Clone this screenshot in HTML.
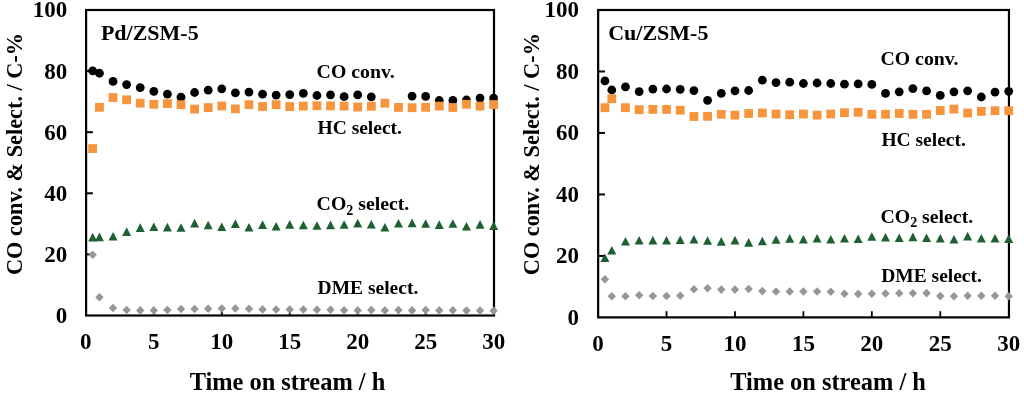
<!DOCTYPE html>
<html><head><meta charset="utf-8"><title>CO conversion and selectivity</title>
<style>
html,body{margin:0;padding:0;background:#fff;}
body{width:1024px;height:395px;overflow:hidden;}
svg{display:block;filter:grayscale(0);}
text{font-family:"Liberation Serif",serif;font-weight:bold;fill:#000;}
</style></head>
<body>
<svg width="1024" height="395" viewBox="0 0 1024 395">
<rect width="1024" height="395" fill="#fff"/>
<rect x="86.1" y="10" width="407.9" height="305.5" fill="none" stroke="#000" stroke-width="2.2"/>
<line x1="86.1" y1="254.4" x2="92.9" y2="254.4" stroke="#000" stroke-width="2"/>
<line x1="86.1" y1="193.3" x2="92.9" y2="193.3" stroke="#000" stroke-width="2"/>
<line x1="86.1" y1="132.2" x2="92.9" y2="132.2" stroke="#000" stroke-width="2"/>
<line x1="86.1" y1="71.1" x2="92.9" y2="71.1" stroke="#000" stroke-width="2"/>
<line x1="153.82" y1="315.5" x2="153.82" y2="309.3" stroke="#000" stroke-width="1.8"/>
<line x1="221.78" y1="315.5" x2="221.78" y2="309.3" stroke="#000" stroke-width="1.8"/>
<line x1="289.74" y1="315.5" x2="289.74" y2="309.3" stroke="#000" stroke-width="1.8"/>
<line x1="357.71" y1="315.5" x2="357.71" y2="309.3" stroke="#000" stroke-width="1.8"/>
<line x1="425.67" y1="315.5" x2="425.67" y2="309.3" stroke="#000" stroke-width="1.8"/>
<g font-size="23" text-anchor="end">
<text x="67.3" y="322.9">0</text>
<text x="67.3" y="261.8">20</text>
<text x="67.3" y="200.7">40</text>
<text x="67.3" y="139.6">60</text>
<text x="67.3" y="78.5">80</text>
<text x="67.3" y="17.4">100</text>
</g>
<g font-size="23" text-anchor="middle">
<text x="85.86" y="348.7">0</text>
<text x="153.82" y="348.7">5</text>
<text x="221.78" y="348.7">10</text>
<text x="289.74" y="348.7">15</text>
<text x="357.71" y="348.7">20</text>
<text x="425.67" y="348.7">25</text>
<text x="493.63" y="348.7">30</text>
</g>
<text font-size="22.3" transform="translate(22.4 275) rotate(-90)">CO conv. &amp; Select. / C-%</text>
<text font-size="24.4" x="189.66" y="389.9">Time on stream / h</text>
<text font-size="22" x="100.9" y="40">Pd/ZSM-5</text>
<text font-size="19.8" x="316.6" y="78.2">CO conv.</text>
<text font-size="19.5" x="317.5" y="133.8">HC select.</text>
<text font-size="19.8" x="316.6" y="210.3">CO<tspan font-size="14" dy="4.6">2</tspan><tspan dy="-4.6"> select.</tspan></text>
<text font-size="19.5" x="317.6" y="294.3">DME select.</text>
<g fill="#000">
<circle cx="92.66" cy="70.85" r="4.4"/>
<circle cx="99.45" cy="73.25" r="4.4"/>
<circle cx="113.04" cy="81.4" r="4.4"/>
<circle cx="126.64" cy="84.6" r="4.4"/>
<circle cx="140.23" cy="87.7" r="4.4"/>
<circle cx="153.82" cy="91.3" r="4.4"/>
<circle cx="167.41" cy="94.1" r="4.4"/>
<circle cx="181.01" cy="97.2" r="4.4"/>
<circle cx="194.6" cy="92.5" r="4.4"/>
<circle cx="208.19" cy="90.2" r="4.4"/>
<circle cx="221.78" cy="88.8" r="4.4"/>
<circle cx="235.38" cy="92.8" r="4.4"/>
<circle cx="248.97" cy="92.1" r="4.4"/>
<circle cx="262.56" cy="94.2" r="4.4"/>
<circle cx="276.15" cy="95.1" r="4.4"/>
<circle cx="289.74" cy="94.6" r="4.4"/>
<circle cx="303.34" cy="93.3" r="4.4"/>
<circle cx="316.93" cy="95.5" r="4.4"/>
<circle cx="330.52" cy="94.8" r="4.4"/>
<circle cx="344.11" cy="96.7" r="4.4"/>
<circle cx="357.71" cy="94.9" r="4.4"/>
<circle cx="371.3" cy="96.8" r="4.4"/>
<circle cx="412.08" cy="96.1" r="4.4"/>
<circle cx="425.67" cy="96.4" r="4.4"/>
<circle cx="439.26" cy="100.5" r="4.4"/>
<circle cx="452.85" cy="100.4" r="4.4"/>
<circle cx="466.45" cy="100" r="4.4"/>
<circle cx="480.04" cy="98.1" r="4.4"/>
<circle cx="493.63" cy="98.1" r="4.4"/>
</g>
<g fill="#F6953C">
<rect x="88.26" y="144.2" width="8.8" height="8.8"/>
<rect x="95.05" y="102.9" width="8.8" height="8.8"/>
<rect x="108.64" y="93.1" width="8.8" height="8.8"/>
<rect x="122.24" y="95.4" width="8.8" height="8.8"/>
<rect x="135.83" y="98.8" width="8.8" height="8.8"/>
<rect x="149.42" y="99.9" width="8.8" height="8.8"/>
<rect x="163.01" y="99.2" width="8.8" height="8.8"/>
<rect x="176.61" y="100.3" width="8.8" height="8.8"/>
<rect x="190.2" y="104.7" width="8.8" height="8.8"/>
<rect x="203.79" y="103.2" width="8.8" height="8.8"/>
<rect x="217.38" y="101.6" width="8.8" height="8.8"/>
<rect x="230.98" y="104.5" width="8.8" height="8.8"/>
<rect x="244.57" y="100.3" width="8.8" height="8.8"/>
<rect x="258.16" y="102.1" width="8.8" height="8.8"/>
<rect x="271.75" y="100.3" width="8.8" height="8.8"/>
<rect x="285.34" y="102.2" width="8.8" height="8.8"/>
<rect x="298.94" y="101.7" width="8.8" height="8.8"/>
<rect x="312.53" y="101.3" width="8.8" height="8.8"/>
<rect x="326.12" y="101.5" width="8.8" height="8.8"/>
<rect x="339.71" y="101.7" width="8.8" height="8.8"/>
<rect x="353.31" y="102.6" width="8.8" height="8.8"/>
<rect x="366.9" y="101.9" width="8.8" height="8.8"/>
<rect x="380.49" y="98.8" width="8.8" height="8.8"/>
<rect x="394.08" y="103" width="8.8" height="8.8"/>
<rect x="407.68" y="103.3" width="8.8" height="8.8"/>
<rect x="421.27" y="102.9" width="8.8" height="8.8"/>
<rect x="434.86" y="101.7" width="8.8" height="8.8"/>
<rect x="448.45" y="103.1" width="8.8" height="8.8"/>
<rect x="462.05" y="99.9" width="8.8" height="8.8"/>
<rect x="475.64" y="101.7" width="8.8" height="8.8"/>
<rect x="489.23" y="100.2" width="8.8" height="8.8"/>
</g>
<g fill="#1D6031">
<polygon points="92.66,232.8 97.16,241.4 88.16,241.4"/>
<polygon points="99.45,232.6 103.95,241.2 94.95,241.2"/>
<polygon points="113.04,231.9 117.54,240.5 108.54,240.5"/>
<polygon points="126.64,227.3 131.14,235.9 122.14,235.9"/>
<polygon points="140.23,223.3 144.73,231.9 135.73,231.9"/>
<polygon points="153.82,222.4 158.32,231 149.32,231"/>
<polygon points="167.41,222.8 171.91,231.4 162.91,231.4"/>
<polygon points="181.01,223.2 185.51,231.8 176.51,231.8"/>
<polygon points="194.6,218.8 199.1,227.4 190.1,227.4"/>
<polygon points="208.19,220.7 212.69,229.3 203.69,229.3"/>
<polygon points="221.78,222.4 226.28,231 217.28,231"/>
<polygon points="235.38,219.3 239.88,227.9 230.88,227.9"/>
<polygon points="248.97,223 253.47,231.6 244.47,231.6"/>
<polygon points="262.56,220.3 267.06,228.9 258.06,228.9"/>
<polygon points="276.15,221.9 280.65,230.5 271.65,230.5"/>
<polygon points="289.74,220.1 294.24,228.7 285.24,228.7"/>
<polygon points="303.34,220.7 307.84,229.3 298.84,229.3"/>
<polygon points="316.93,221.2 321.43,229.8 312.43,229.8"/>
<polygon points="330.52,220.6 335.02,229.2 326.02,229.2"/>
<polygon points="344.11,220.2 348.61,228.8 339.61,228.8"/>
<polygon points="357.71,218.8 362.21,227.4 353.21,227.4"/>
<polygon points="371.3,219.9 375.8,228.5 366.8,228.5"/>
<polygon points="384.89,223 389.39,231.6 380.39,231.6"/>
<polygon points="398.48,219 402.98,227.6 393.98,227.6"/>
<polygon points="412.08,218.6 416.58,227.2 407.58,227.2"/>
<polygon points="425.67,219.2 430.17,227.8 421.17,227.8"/>
<polygon points="439.26,220.3 443.76,228.9 434.76,228.9"/>
<polygon points="452.85,219.2 457.35,227.8 448.35,227.8"/>
<polygon points="466.45,222 470.95,230.6 461.95,230.6"/>
<polygon points="480.04,220.1 484.54,228.7 475.54,228.7"/>
<polygon points="493.63,221.3 498.13,229.9 489.13,229.9"/>
</g>
<g fill="#969696">
<polygon points="92.66,250.4 96.86,254.7 92.66,259 88.46,254.7"/>
<polygon points="99.45,293 103.65,297.3 99.45,301.6 95.25,297.3"/>
<polygon points="113.04,303.7 117.24,308 113.04,312.3 108.84,308"/>
<polygon points="126.64,305.7 130.84,310 126.64,314.3 122.44,310"/>
<polygon points="140.23,306.1 144.43,310.4 140.23,314.7 136.03,310.4"/>
<polygon points="153.82,306.1 158.02,310.4 153.82,314.7 149.62,310.4"/>
<polygon points="167.41,305.7 171.61,310 167.41,314.3 163.21,310"/>
<polygon points="181.01,304.7 185.21,309 181.01,313.3 176.81,309"/>
<polygon points="194.6,304.7 198.8,309 194.6,313.3 190.4,309"/>
<polygon points="208.19,304.5 212.39,308.8 208.19,313.1 203.99,308.8"/>
<polygon points="221.78,304.2 225.98,308.5 221.78,312.8 217.58,308.5"/>
<polygon points="235.38,304.2 239.58,308.5 235.38,312.8 231.18,308.5"/>
<polygon points="248.97,304.5 253.17,308.8 248.97,313.1 244.77,308.8"/>
<polygon points="262.56,305.2 266.76,309.5 262.56,313.8 258.36,309.5"/>
<polygon points="276.15,305.2 280.35,309.5 276.15,313.8 271.95,309.5"/>
<polygon points="289.74,305.2 293.94,309.5 289.74,313.8 285.54,309.5"/>
<polygon points="303.34,305.2 307.54,309.5 303.34,313.8 299.14,309.5"/>
<polygon points="316.93,305.4 321.13,309.7 316.93,314 312.73,309.7"/>
<polygon points="330.52,305.5 334.72,309.8 330.52,314.1 326.32,309.8"/>
<polygon points="344.11,305.9 348.31,310.2 344.11,314.5 339.91,310.2"/>
<polygon points="357.71,306.1 361.91,310.4 357.71,314.7 353.51,310.4"/>
<polygon points="371.3,305.8 375.5,310.1 371.3,314.4 367.1,310.1"/>
<polygon points="384.89,306.1 389.09,310.4 384.89,314.7 380.69,310.4"/>
<polygon points="398.48,305.8 402.68,310.1 398.48,314.4 394.28,310.1"/>
<polygon points="412.08,306.1 416.28,310.4 412.08,314.7 407.88,310.4"/>
<polygon points="425.67,305.8 429.87,310.1 425.67,314.4 421.47,310.1"/>
<polygon points="439.26,306.1 443.46,310.4 439.26,314.7 435.06,310.4"/>
<polygon points="452.85,306 457.05,310.3 452.85,314.6 448.65,310.3"/>
<polygon points="466.45,306.3 470.65,310.6 466.45,314.9 462.25,310.6"/>
<polygon points="480.04,306.3 484.24,310.6 480.04,314.9 475.84,310.6"/>
<polygon points="493.63,306.5 497.83,310.8 493.63,315.1 489.43,310.8"/>
</g>
<rect x="598.15" y="10" width="410.8" height="307.4" fill="none" stroke="#000" stroke-width="2.2"/>
<line x1="598.15" y1="255.92" x2="604.95" y2="255.92" stroke="#000" stroke-width="2"/>
<line x1="598.15" y1="194.44" x2="604.95" y2="194.44" stroke="#000" stroke-width="2"/>
<line x1="598.15" y1="132.96" x2="604.95" y2="132.96" stroke="#000" stroke-width="2"/>
<line x1="598.15" y1="71.48" x2="604.95" y2="71.48" stroke="#000" stroke-width="2"/>
<line x1="666.53" y1="317.4" x2="666.53" y2="311.2" stroke="#000" stroke-width="1.8"/>
<line x1="734.97" y1="317.4" x2="734.97" y2="311.2" stroke="#000" stroke-width="1.8"/>
<line x1="803.4" y1="317.4" x2="803.4" y2="311.2" stroke="#000" stroke-width="1.8"/>
<line x1="871.83" y1="317.4" x2="871.83" y2="311.2" stroke="#000" stroke-width="1.8"/>
<line x1="940.27" y1="317.4" x2="940.27" y2="311.2" stroke="#000" stroke-width="1.8"/>
<g font-size="23" text-anchor="end">
<text x="579.1" y="324.8">0</text>
<text x="579.1" y="263.32">20</text>
<text x="579.1" y="201.84">40</text>
<text x="579.1" y="140.36">60</text>
<text x="579.1" y="78.88">80</text>
<text x="579.1" y="17.4">100</text>
</g>
<g font-size="23" text-anchor="middle">
<text x="598.1" y="350.6">0</text>
<text x="666.53" y="350.6">5</text>
<text x="734.97" y="350.6">10</text>
<text x="803.4" y="350.6">15</text>
<text x="871.83" y="350.6">20</text>
<text x="940.27" y="350.6">25</text>
<text x="1008.7" y="350.6">30</text>
</g>
<text font-size="22.3" transform="translate(539.2 275.2) rotate(-90)">CO conv. &amp; Select. / C-%</text>
<text font-size="24.4" x="730.26" y="389.9">Time on stream / h</text>
<text font-size="22" x="608.2" y="40">Cu/ZSM-5</text>
<text font-size="19.8" x="880.5" y="64.9">CO conv.</text>
<text font-size="19.5" x="881.4" y="145.8">HC select.</text>
<text font-size="19.8" x="880.5" y="222.7">CO<tspan font-size="14" dy="4.6">2</tspan><tspan dy="-4.6"> select.</tspan></text>
<text font-size="19.5" x="881.2" y="282.3">DME select.</text>
<g fill="#000">
<circle cx="604.94" cy="80.9" r="4.4"/>
<circle cx="611.79" cy="90" r="4.4"/>
<circle cx="625.47" cy="86.8" r="4.4"/>
<circle cx="639.16" cy="91.6" r="4.4"/>
<circle cx="652.85" cy="89.1" r="4.4"/>
<circle cx="666.53" cy="89" r="4.4"/>
<circle cx="680.22" cy="89.3" r="4.4"/>
<circle cx="693.91" cy="90.6" r="4.4"/>
<circle cx="707.59" cy="100.3" r="4.4"/>
<circle cx="721.28" cy="93.3" r="4.4"/>
<circle cx="734.97" cy="90.8" r="4.4"/>
<circle cx="748.65" cy="90.5" r="4.4"/>
<circle cx="762.34" cy="80.2" r="4.4"/>
<circle cx="776.03" cy="82.6" r="4.4"/>
<circle cx="789.71" cy="82.2" r="4.4"/>
<circle cx="803.4" cy="83.5" r="4.4"/>
<circle cx="817.09" cy="83" r="4.4"/>
<circle cx="830.77" cy="83.5" r="4.4"/>
<circle cx="844.46" cy="84.2" r="4.4"/>
<circle cx="858.15" cy="83.9" r="4.4"/>
<circle cx="871.83" cy="84.4" r="4.4"/>
<circle cx="885.52" cy="93.4" r="4.4"/>
<circle cx="899.21" cy="91.8" r="4.4"/>
<circle cx="912.89" cy="88.6" r="4.4"/>
<circle cx="926.58" cy="90.9" r="4.4"/>
<circle cx="940.27" cy="95.4" r="4.4"/>
<circle cx="953.95" cy="91.8" r="4.4"/>
<circle cx="967.64" cy="90.8" r="4.4"/>
<circle cx="981.33" cy="97" r="4.4"/>
<circle cx="995.01" cy="92.1" r="4.4"/>
<circle cx="1008.7" cy="91.3" r="4.4"/>
</g>
<g fill="#F6953C">
<rect x="600.54" y="103.3" width="8.8" height="8.8"/>
<rect x="607.39" y="94.3" width="8.8" height="8.8"/>
<rect x="621.07" y="103.3" width="8.8" height="8.8"/>
<rect x="634.76" y="105.3" width="8.8" height="8.8"/>
<rect x="648.45" y="105" width="8.8" height="8.8"/>
<rect x="662.13" y="105" width="8.8" height="8.8"/>
<rect x="675.82" y="105.8" width="8.8" height="8.8"/>
<rect x="689.51" y="112.1" width="8.8" height="8.8"/>
<rect x="703.19" y="111.9" width="8.8" height="8.8"/>
<rect x="716.88" y="109.9" width="8.8" height="8.8"/>
<rect x="730.57" y="110.7" width="8.8" height="8.8"/>
<rect x="744.25" y="109.1" width="8.8" height="8.8"/>
<rect x="757.94" y="108.6" width="8.8" height="8.8"/>
<rect x="771.63" y="109.6" width="8.8" height="8.8"/>
<rect x="785.31" y="110.3" width="8.8" height="8.8"/>
<rect x="799" y="109.6" width="8.8" height="8.8"/>
<rect x="812.69" y="110.7" width="8.8" height="8.8"/>
<rect x="826.37" y="109.6" width="8.8" height="8.8"/>
<rect x="840.06" y="108.3" width="8.8" height="8.8"/>
<rect x="853.75" y="107.9" width="8.8" height="8.8"/>
<rect x="867.43" y="109.9" width="8.8" height="8.8"/>
<rect x="881.12" y="109.9" width="8.8" height="8.8"/>
<rect x="894.81" y="109.1" width="8.8" height="8.8"/>
<rect x="908.49" y="109.9" width="8.8" height="8.8"/>
<rect x="922.18" y="109.9" width="8.8" height="8.8"/>
<rect x="935.87" y="106.1" width="8.8" height="8.8"/>
<rect x="949.55" y="104.7" width="8.8" height="8.8"/>
<rect x="963.24" y="108.6" width="8.8" height="8.8"/>
<rect x="976.93" y="107" width="8.8" height="8.8"/>
<rect x="990.61" y="106.3" width="8.8" height="8.8"/>
<rect x="1004.3" y="106.3" width="8.8" height="8.8"/>
</g>
<g fill="#1D6031">
<polygon points="604.94,253.5 609.44,262.1 600.44,262.1"/>
<polygon points="611.79,245.9 616.29,254.5 607.29,254.5"/>
<polygon points="625.47,237 629.97,245.6 620.97,245.6"/>
<polygon points="639.16,235.9 643.66,244.5 634.66,244.5"/>
<polygon points="652.85,235.9 657.35,244.5 648.35,244.5"/>
<polygon points="666.53,236 671.03,244.6 662.03,244.6"/>
<polygon points="680.22,235.4 684.72,244 675.72,244"/>
<polygon points="693.91,234.9 698.41,243.5 689.41,243.5"/>
<polygon points="707.59,236.2 712.09,244.8 703.09,244.8"/>
<polygon points="721.28,237.1 725.78,245.7 716.78,245.7"/>
<polygon points="734.97,235.8 739.47,244.4 730.47,244.4"/>
<polygon points="748.65,238.1 753.15,246.7 744.15,246.7"/>
<polygon points="762.34,236.7 766.84,245.3 757.84,245.3"/>
<polygon points="776.03,235.2 780.53,243.8 771.53,243.8"/>
<polygon points="789.71,234.1 794.21,242.7 785.21,242.7"/>
<polygon points="803.4,235 807.9,243.6 798.9,243.6"/>
<polygon points="817.09,233.9 821.59,242.5 812.59,242.5"/>
<polygon points="830.77,234.9 835.27,243.5 826.27,243.5"/>
<polygon points="844.46,233.9 848.96,242.5 839.96,242.5"/>
<polygon points="858.15,234.5 862.65,243.1 853.65,243.1"/>
<polygon points="871.83,232.2 876.33,240.8 867.33,240.8"/>
<polygon points="885.52,232.9 890.02,241.5 881.02,241.5"/>
<polygon points="899.21,233.5 903.71,242.1 894.71,242.1"/>
<polygon points="912.89,232.6 917.39,241.2 908.39,241.2"/>
<polygon points="926.58,233.5 931.08,242.1 922.08,242.1"/>
<polygon points="940.27,233.9 944.77,242.5 935.77,242.5"/>
<polygon points="953.95,235 958.45,243.6 949.45,243.6"/>
<polygon points="967.64,231.8 972.14,240.4 963.14,240.4"/>
<polygon points="981.33,233.9 985.83,242.5 976.83,242.5"/>
<polygon points="995.01,233.9 999.51,242.5 990.51,242.5"/>
<polygon points="1008.7,234.3 1013.2,242.9 1004.2,242.9"/>
</g>
<g fill="#969696">
<polygon points="604.94,274.9 609.14,279.2 604.94,283.5 600.74,279.2"/>
<polygon points="611.79,292 615.99,296.3 611.79,300.6 607.59,296.3"/>
<polygon points="625.47,292 629.67,296.3 625.47,300.6 621.27,296.3"/>
<polygon points="639.16,291 643.36,295.3 639.16,299.6 634.96,295.3"/>
<polygon points="652.85,291.7 657.05,296 652.85,300.3 648.65,296"/>
<polygon points="666.53,291.7 670.73,296 666.53,300.3 662.33,296"/>
<polygon points="680.22,291.4 684.42,295.7 680.22,300 676.02,295.7"/>
<polygon points="693.91,284.9 698.11,289.2 693.91,293.5 689.71,289.2"/>
<polygon points="707.59,284 711.79,288.3 707.59,292.6 703.39,288.3"/>
<polygon points="721.28,285.3 725.48,289.6 721.28,293.9 717.08,289.6"/>
<polygon points="734.97,285.3 739.17,289.6 734.97,293.9 730.77,289.6"/>
<polygon points="748.65,284.7 752.85,289 748.65,293.3 744.45,289"/>
<polygon points="762.34,286.8 766.54,291.1 762.34,295.4 758.14,291.1"/>
<polygon points="776.03,287.2 780.23,291.5 776.03,295.8 771.83,291.5"/>
<polygon points="789.71,287.2 793.91,291.5 789.71,295.8 785.51,291.5"/>
<polygon points="803.4,287.2 807.6,291.5 803.4,295.8 799.2,291.5"/>
<polygon points="817.09,287.2 821.29,291.5 817.09,295.8 812.89,291.5"/>
<polygon points="830.77,287.5 834.97,291.8 830.77,296.1 826.57,291.8"/>
<polygon points="844.46,289.4 848.66,293.7 844.46,298 840.26,293.7"/>
<polygon points="858.15,289.6 862.35,293.9 858.15,298.2 853.95,293.9"/>
<polygon points="871.83,289.5 876.03,293.8 871.83,298.1 867.63,293.8"/>
<polygon points="885.52,289.2 889.72,293.5 885.52,297.8 881.32,293.5"/>
<polygon points="899.21,288.9 903.41,293.2 899.21,297.5 895.01,293.2"/>
<polygon points="912.89,288.9 917.09,293.2 912.89,297.5 908.69,293.2"/>
<polygon points="926.58,288.8 930.78,293.1 926.58,297.4 922.38,293.1"/>
<polygon points="940.27,291.8 944.47,296.1 940.27,300.4 936.07,296.1"/>
<polygon points="953.95,291.9 958.15,296.2 953.95,300.5 949.75,296.2"/>
<polygon points="967.64,291.5 971.84,295.8 967.64,300.1 963.44,295.8"/>
<polygon points="981.33,291.5 985.53,295.8 981.33,300.1 977.13,295.8"/>
<polygon points="995.01,291.5 999.21,295.8 995.01,300.1 990.81,295.8"/>
<polygon points="1008.7,291.9 1012.9,296.2 1008.7,300.5 1004.5,296.2"/>
</g>
</svg>
</body></html>
